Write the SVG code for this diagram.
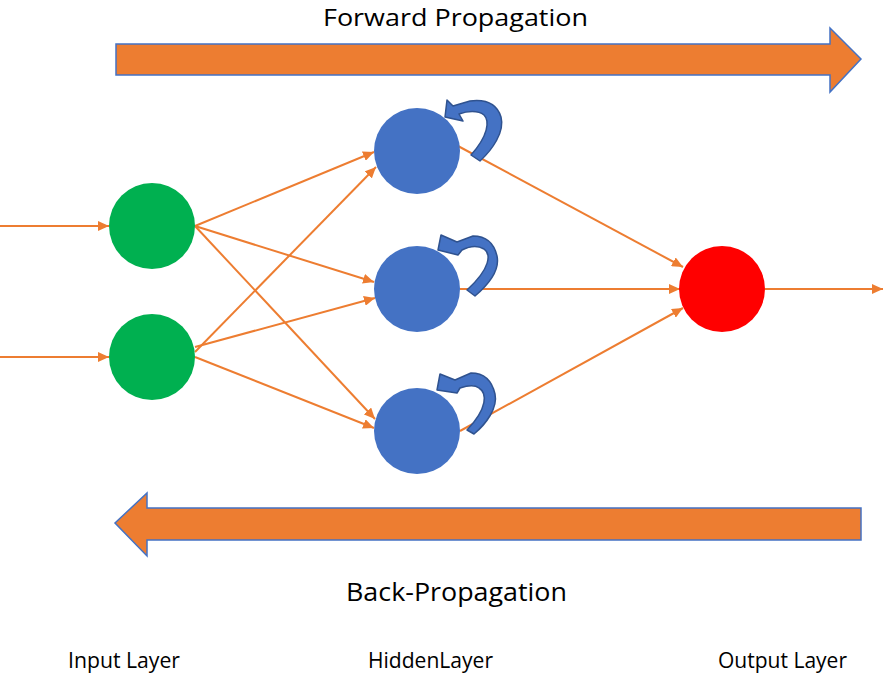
<svg xmlns="http://www.w3.org/2000/svg" width="883" height="673" viewBox="0 0 883 673">
<style>
.t{font-family:"Open Sans","Liberation Sans",sans-serif;fill:#000}
.big{fill:#ED7D31;stroke:#4472C4;stroke-width:1.5}
.link{stroke:#ED7D31;stroke-width:2;fill:none;marker-end:url(#ah)}
.loop{fill:#4472C4;stroke:#2F528F;stroke-width:1.5;stroke-linejoin:round}
.hid{fill:#4472C4}
</style>
<defs>
<marker id="ah" markerUnits="userSpaceOnUse" markerWidth="12" markerHeight="10" refX="11" refY="5" orient="auto">
<path d="M0,0 L11,5 L0,10 Z" fill="#ED7D31"/>
</marker>
</defs>
<rect width="883" height="673" fill="#fff"/>
<g id="forward-arrow">
<path class="big" d="M116,44 L830,44 L830,28 L861,59 L830,92 L830,75 L116,75 Z"/>
<text class="t" x="323" y="26" font-size="24" textLength="265" lengthAdjust="spacingAndGlyphs">Forward Propagation</text>
</g>
<g id="back-arrow">
<path class="big" d="M861,508 L147,508 L147,493 L115,523 L147,556 L147,540 L861,540 Z"/>
<text class="t" x="346" y="601" font-size="26" textLength="221" lengthAdjust="spacingAndGlyphs">Back-Propagation</text>
</g>
<g id="connectors">
<line class="link" x1="0" y1="226" x2="109" y2="226"/>
<line class="link" x1="0" y1="357" x2="109" y2="357"/>
<line class="link" x1="195" y1="226" x2="374" y2="152"/>
<line class="link" x1="195" y1="226" x2="374" y2="282"/>
<line class="link" x1="195" y1="226" x2="375" y2="419"/>
<line class="link" x1="195" y1="352" x2="376" y2="167"/>
<line class="link" x1="195" y1="347" x2="375" y2="298"/>
<line class="link" x1="195" y1="357" x2="374" y2="428"/>
<line class="link" x1="458" y1="146" x2="683" y2="267"/>
<line class="link" x1="460" y1="289" x2="680" y2="289"/>
<line class="link" x1="460" y1="431" x2="683" y2="308"/>
<line class="link" x1="765" y1="289" x2="883" y2="289"/>
</g>
<g id="input-1"><circle cx="152" cy="226" r="43" fill="#00B050"/></g>
<g id="input-2"><circle cx="152" cy="357" r="43" fill="#00B050"/></g>
<g id="hidden-1"><circle class="hid" cx="417" cy="151" r="43"/>
<path class="loop" d="M480,161 C492,150 505,132 501,117 C497,104 486,99 470,101 L453,106 L447,100 L445,117 L463,121 L459,114 C467,111 478,110 484,115 C490,121 488,136 471,155 Z"/></g>
<g id="hidden-2"><circle class="hid" cx="417" cy="289" r="43"/>
<path class="loop" d="M475,296 C488,285 500,270 497,256 C494,243 486,236 473,236 L457,242 L441,235 L438,250 L458,255 L462,250 C468,247 477,245 484,249 C491,254 491,268 467,290 Z"/></g>
<g id="hidden-3"><circle class="hid" cx="417" cy="431" r="43"/>
<path class="loop" d="M474,434 C486,424 498,408 495,394 C492,381 484,373 471,373 L455,380 L440,374 L437,390 L457,393 L460,388 C466,386 474,384 479,388 C487,393 488,408 467,430 Z"/></g>
<g id="output"><circle cx="722" cy="289" r="43" fill="#FF0000"/></g>
<g id="labels">
<text class="t" x="68" y="668" font-size="21" textLength="112" lengthAdjust="spacingAndGlyphs">Input Layer</text>
<text class="t" x="368" y="668" font-size="21" textLength="125" lengthAdjust="spacingAndGlyphs">HiddenLayer</text>
<text class="t" x="718" y="668" font-size="21" textLength="129" lengthAdjust="spacingAndGlyphs">Output Layer</text>
</g>
</svg>
